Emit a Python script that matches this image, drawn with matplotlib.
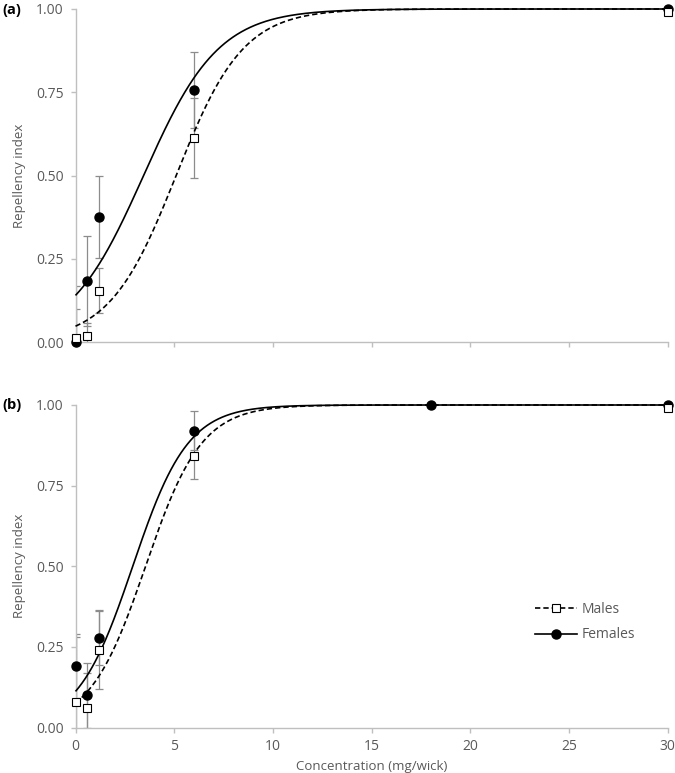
import numpy as np
import matplotlib
matplotlib.use('Agg')
import matplotlib.pyplot as plt
from matplotlib.lines import Line2D

plt.rcParams['font.family'] = ['Open Sans', 'DejaVu Sans']

# ---------------- data ----------------
x_ticks = [0, 5, 10, 15, 20, 25, 30]
y_ticks = [0.0, 0.25, 0.50, 0.75, 1.00]
y_tick_labels = ['0.00', '0.25', '0.50', '0.75', '1.00']
x_label = 'Concentration (mg/wick)'
y_label = 'Repellency index'
series_names = ['Males', 'Females']

# panel (a)
a_male_x = [0, 0.6, 1.2, 6, 30]
a_male_y = [0.012, 0.017, 0.154, 0.612, 0.99]
a_male_err = [0.155, 0.04, 0.068, 0.12, 0.0]
a_female_x = [0, 0.6, 1.2, 6, 30]
a_female_y = [0.0, 0.182, 0.376, 0.757, 1.0]
a_female_err = [0.10, 0.135, 0.123, 0.115, 0.0]

# panel (b)
b_male_x = [0, 0.6, 1.2, 6, 30]
b_male_y = [0.08, 0.06, 0.24, 0.842, 0.99]
b_male_err = [0.20, 0.11, 0.12, 0.071, 0.0]
b_female_x = [0, 0.6, 1.2, 6, 18, 30]
b_female_y = [0.19, 0.10, 0.278, 0.92, 1.0, 1.0]
b_female_err = [0.10, 0.10, 0.085, 0.06, 0.0, 0.0]

# fitted dose-response curves (logistic midpoint, scale)
a_male_fit = (5.1, 1.7)
a_female_fit = (3.45, 1.9)
b_male_fit = (3.55, 1.42)
b_female_fit = (2.9, 1.4)

# ---------------- figure ----------------
W, H = 675, 773
fig = plt.figure(figsize=(W / 100, H / 100), dpi=100)

def frac_box(left, top, right, bottom):
    return [left / W, 1 - bottom / H, (right - left) / W, (bottom - top) / H]

ax_a = fig.add_axes(frac_box(75.5, 9, 667.5, 342))
ax_b = fig.add_axes(frac_box(75.5, 405, 667.5, 727.5))

GRAY = '#bfbfbf'
TXT = '#595959'
ERR = '#8c8c8c'


def logistic(x, p):
    x0, s = p
    return 1.0 / (1.0 + np.exp(-(x - x0) / s))


def draw_panel(ax, mx, my, me, fx, fy, fe, mfit, ffit, show_xlabels):
    # error bars
    ax.errorbar(fx, fy, yerr=fe, fmt='none', ecolor=ERR, elinewidth=0.9,
                capsize=3, capthick=0.9, zorder=2)
    ax.errorbar(mx, my, yerr=me, fmt='none', ecolor=ERR, elinewidth=0.9,
                capsize=3, capthick=0.9, zorder=2)
    # fitted curves
    xs = np.linspace(0, 30, 900)
    ax.plot(xs, logistic(xs, ffit), color='black', lw=1.2, zorder=3,
            solid_capstyle='butt', clip_on=False)
    ax.plot(xs, logistic(xs, mfit), color='black', lw=1.2, ls=(0, (3.2, 1.8)),
            zorder=3, clip_on=False)
    # markers
    ax.plot(fx, fy, ls='none', marker='o', ms=6.5, mfc='black', mec='black',
            zorder=4, clip_on=False)
    ax.plot(mx, my, ls='none', marker='s', ms=6.3, mfc='white', mec='black',
            mew=0.8, zorder=5, clip_on=False)

    ax.set_xlim(0, 30)
    ax.set_ylim(0, 1)
    ax.set_xticks(x_ticks)
    ax.set_yticks(y_ticks)
    ax.set_yticklabels(y_tick_labels)
    if not show_xlabels:
        ax.set_xticklabels([])
    for s in ['top', 'right']:
        ax.spines[s].set_visible(False)
    for s in ['left', 'bottom']:
        ax.spines[s].set_color(GRAY)
        ax.spines[s].set_linewidth(1.0)
    ax.tick_params(axis='both', colors=GRAY, labelcolor=TXT, labelsize=10,
                   length=3.5, width=1.0, direction='out')
    ax.tick_params(axis='y', pad=5)
    ax.tick_params(axis='x', pad=5)
    ax.set_ylabel(y_label, color=TXT, fontsize=9.5)
    ax.yaxis.set_label_coords(-0.083, 0.5)


draw_panel(ax_a, a_male_x, a_male_y, a_male_err, a_female_x, a_female_y,
           a_female_err, a_male_fit, a_female_fit, False)
draw_panel(ax_b, b_male_x, b_male_y, b_male_err, b_female_x, b_female_y,
           b_female_err, b_male_fit, b_female_fit, True)

ax_b.set_xlabel(x_label, color=TXT, fontsize=9.5)
ax_b.xaxis.set_label_coords(0.5, -0.1)

fig.text(2 / W, 1 - 10 / H, '(a)', fontsize=10.5, fontweight='bold',
         va='center', ha='left', color='black')
fig.text(2 / W, 1 - 405 / H, '(b)', fontsize=10.5, fontweight='bold',
         va='center', ha='left', color='black')

handles = [
    Line2D([], [], color='black', lw=1.2, ls=(0, (3.2, 1.8)), marker='s',
           ms=6.3, mfc='white', mec='black', mew=0.8),
    Line2D([], [], color='black', lw=1.2, marker='o', ms=6.5, mfc='black',
           mec='black'),
]
leg = ax_b.legend(handles, series_names, loc='upper left',
                  bbox_to_anchor=(0.776, 0.389), frameon=False,
                  borderaxespad=0, borderpad=0, handlelength=3.0,
                  handletextpad=0.35, labelspacing=0.75, fontsize=10,
                  numpoints=1)
for t in leg.get_texts():
    t.set_color(TXT)

fig.savefig('out.png', dpi=100)
